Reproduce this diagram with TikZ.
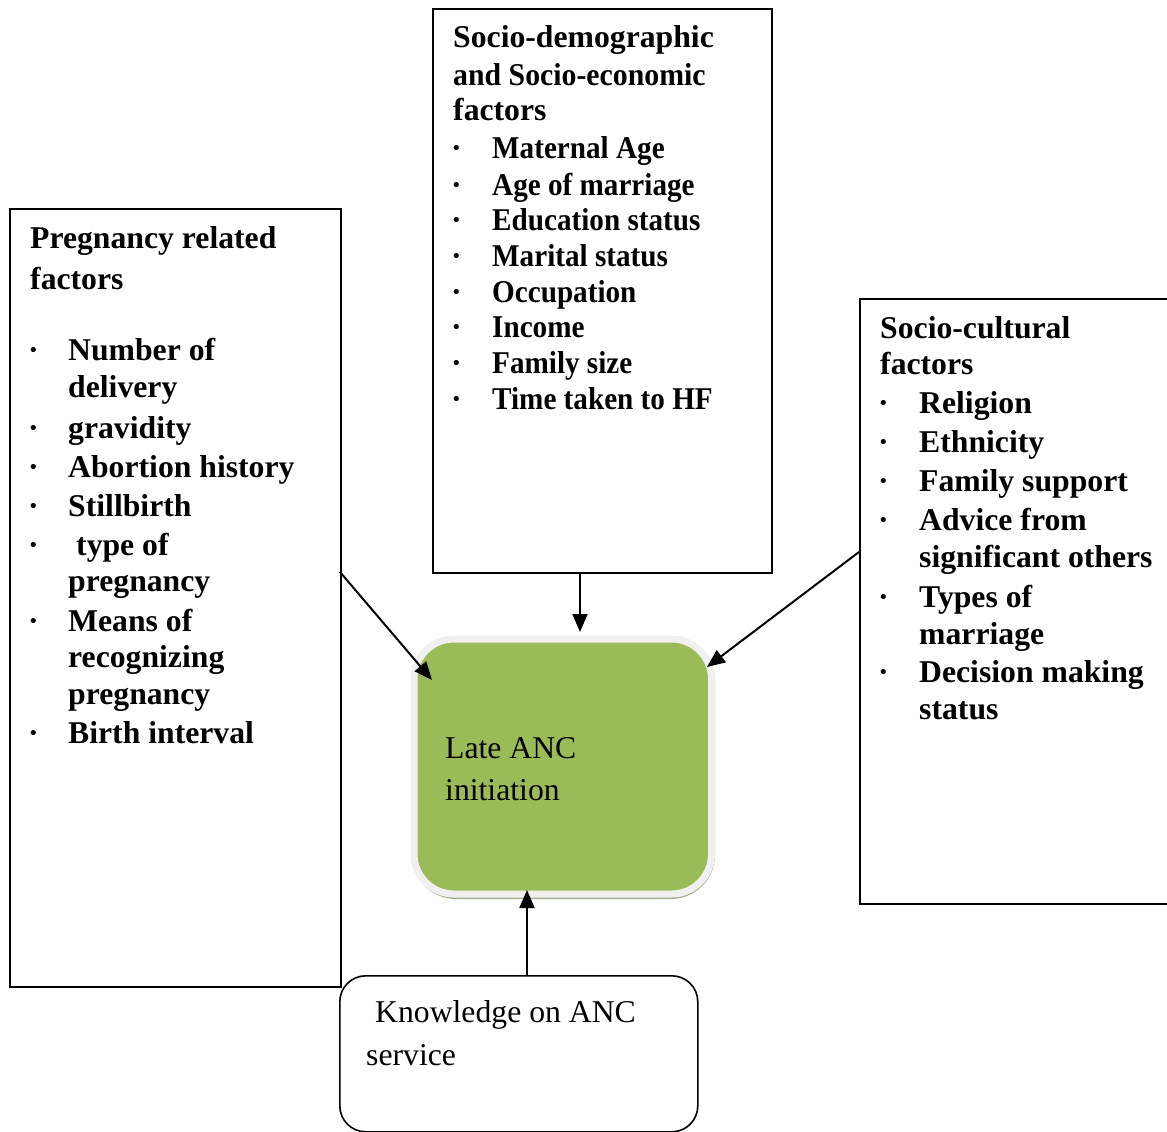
\documentclass[tikz,border=0pt]{standalone}
\usepackage{fontspec}
\usepackage{graphicx}
\setmainfont{Liberation Serif}
\usetikzlibrary{arrows.meta}
\definecolor{olivegreen}{HTML}{9BBB59}
\definecolor{lightrim}{HTML}{F0F0F0}
\definecolor{shadowgreen}{HTML}{A4B290}
\begin{document}
\begin{tikzpicture}[x=1pt,y=-1pt,
  boxline/.style={draw=black, line width=2pt, anchor=north west, inner sep=0pt},
  bold/.style={anchor=base west, inner sep=0pt, font=\fontsize{31.7}{36}\selectfont\bfseries},
  plain/.style={anchor=base west, inner sep=0pt, font=\fontsize{31.7}{36}\selectfont},
  arr/.style={line width=2pt, -{Triangle[length=18pt,width=15pt]}}]
\useasboundingbox (0,0) rectangle (1167,1132);
\clip (0,0) rectangle (1167,1132);

% boxes
\node[boxline, minimum width=339pt, minimum height=564pt] (socio) at (432,8) {};
\node[boxline, minimum width=331pt, minimum height=778pt] (preg) at (9,208) {};
\node[boxline, minimum width=320pt, minimum height=605pt] (cult) at (859,298) {};
\node[draw=black, line width=1.6pt, rounded corners=26pt, anchor=north west, inner sep=0pt,
      minimum width=358pt, minimum height=156pt] (know) at (339,975) {};

% central box
\fill[shadowgreen, rounded corners=44pt] (412,637) rectangle (715,899);
\node[draw=lightrim, fill=olivegreen, line width=7pt, rounded corners=40pt, anchor=north west,
      inner sep=0pt, minimum width=297.5pt, minimum height=255pt] (core) at (410.5,635.5) {};

% socio-demographic text
\node[bold] (sh1) at (453,48) {Socio-demographic};
\node[bold] (sh2) at (453,85) {\scalebox{0.94}[1]{and Socio-economic}};
\node[bold] (sh3) at (453,120) {factors};
\foreach \t/\y [count=\i] in {Maternal Age/158, Age of marriage/195, Education status/230,
   Marital status/266, Occupation/302, Income/337, Family size/373, Time taken to HF/409}{
  \node[bold] (sb\i) at (451,\y) {·};
  \node[bold] (st\i) at (492,\y) {\scalebox{0.92}[1]{\t}};
}

% pregnancy text
\node[bold] (ph1) at (30,248) {Pregnancy related};
\node[bold] (ph2) at (30,289) {factors};
\foreach \y [count=\i] in {360,438,477,516,555,631,743}{
  \node[bold] (pb\i) at (28,\y) {·};
}
\foreach \t/\y [count=\i] in {Number of/360, delivery/397, gravidity/438, Abortion history/477,
   Stillbirth/516, pregnancy/591, Means of/631, recognizing/667, pregnancy/704, Birth interval/743}{
  \node[bold] (pt\i) at (68,\y) {\t};
}
\node[bold] (pt0) at (76,555) {type of};

% socio-cultural text
\node[bold] (ch1) at (880,338) {Socio-cultural};
\node[bold] (ch2) at (880,374) {factors};
\foreach \y [count=\i] in {413,452,491,530,607,682}{
  \node[bold] (cb\i) at (878,\y) {·};
}
\foreach \t/\y [count=\i] in {Religion/413, Ethnicity/452, Family support/491, Advice from/530,
   significant others/567, Types of/607, marriage/644, Decision making/682, status/719}{
  \node[bold] (ct\i) at (919,\y) {\t};
}

% central and knowledge text
\node[plain] (c1) at (445,758) {Late ANC};
\node[plain] (c2) at (445,800) {initiation};
\node[plain] (k1) at (375,1022) {Knowledge on ANC};
\node[plain] (k2) at (366,1065) {service};

% connectors
\coordinate (a1s) at (580,572);
\coordinate (a1e) at (580,632);
\coordinate (a2s) at (340,572);
\coordinate (a2e) at (432,680);
\coordinate (a3s) at (859,552);
\coordinate (a3e) at (707,667);
\coordinate (a4s) at (527,975);
\coordinate (a4e) at (527,890);
\draw[arr] (a1s) -- (a1e);
\draw[arr] (a2s) -- (a2e);
\draw[arr] (a3s) -- (a3e);
\draw[arr] (a4s) -- (a4e);
\end{tikzpicture}
\end{document}
